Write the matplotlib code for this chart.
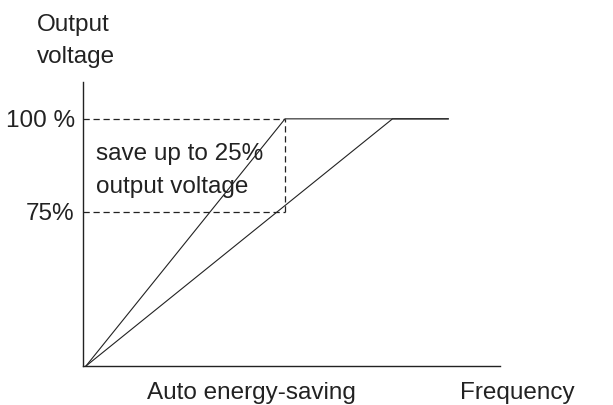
#!/usr/bin/env python3
"""Auto energy-saving: output voltage vs. frequency (V/f curves)."""

import matplotlib

matplotlib.use('Agg')
import matplotlib.pyplot as plt

# frequency in units of base frequency, voltage in percent
normal_freq = [0.0, 1.0, 1.82]
normal_volt = [33.6, 100.0, 100.0]
saving_freq = [0.0, 1.54, 1.82]
saving_volt = [33.6, 100.0, 100.0]

box_freq = 1.0
box_low = 75.0
box_high = 100.0

ytick_vals = [75, 100]
ytick_labels = ['75%', '100 %']

plt.rcParams['font.family'] = ['Liberation Sans', 'DejaVu Sans']

W, H = 613, 405
fig = plt.figure(figsize=(W / 100, H / 100), dpi=100)
ax = fig.add_axes([83 / W, (H - 366) / H, (500 - 83) / W, (366 - 82) / H])

ax.plot(normal_freq, normal_volt, color='#222222', lw=0.8)
ax.plot(saving_freq, saving_volt, color='#222222', lw=0.8)

dash = dict(color='#222222', lw=0.9, linestyle=(0, (5, 3)))
ax.plot([-0.015, box_freq], [box_high, box_high], **dash)
ax.plot([-0.015, box_freq], [box_low, box_low], **dash)
ax.plot([box_freq, box_freq], [box_low, box_high], **dash)

ax.set_xlim(-0.015, 2.08)
ax.set_ylim(33.6, 109.9)
ax.spines[['top', 'right']].set_visible(False)
for side in ('left', 'bottom'):
    ax.spines[side].set_linewidth(1.0)
    ax.spines[side].set_color('#222222')

FS = 17.5
ax.set_xticks([])
ax.set_yticks(ytick_vals)
ax.set_yticklabels(ytick_labels, fontsize=FS, color='#222222')
ax.tick_params(axis='y', length=0, pad=6)

txt = dict(fontsize=FS, color='#222222')
fig.text(37 / W, 1 - 31 / H, 'Output', va='baseline', **txt)
fig.text(37 / W, 1 - 63 / H, 'voltage', va='baseline', **txt)
fig.text(96 / W, 1 - 160 / H, 'save up to 25%', va='baseline', **txt)
fig.text(96 / W, 1 - 193 / H, 'output voltage', va='baseline', **txt)
fig.text(251 / W, 1 - 399 / H, 'Auto energy-saving', ha='center',
         va='baseline', **txt)
fig.text(517 / W, 1 - 399 / H, 'Frequency', ha='center', va='baseline', **txt)

fig.savefig('out.png', dpi=100)
